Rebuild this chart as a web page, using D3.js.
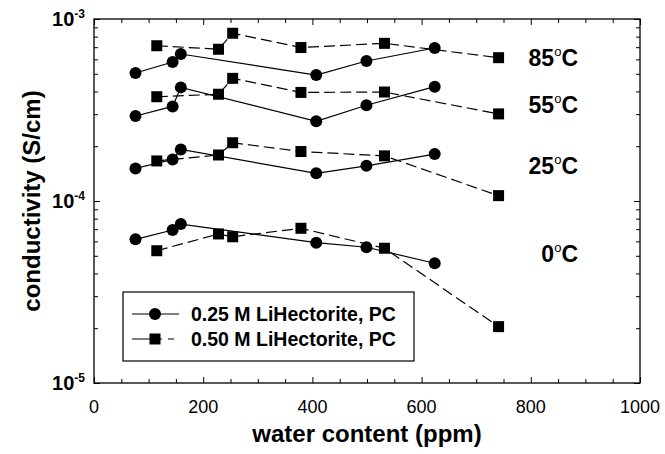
<!DOCTYPE html>
<html lang="en">
<head>
<meta charset="UTF-8">
<title>conductivity vs water content</title>
<script src="https://cdn.jsdelivr.net/npm/d3@7"></script>
<style>
  body { margin: 0; background: #fff; }
  text { font-family: "Liberation Sans", Arial, sans-serif; fill: #000; }
</style>
</head>
<body>
<script>
    // water content (ppm) of the samples
    var water025 = [76, 144, 159, 407, 499, 624]
    var water050 = [115, 228, 254, 379, 532, 741]

    // conductivity (S/cm), 0.25 M LiHectorite in PC
    var c025_85 = [5.05e-4, 5.8e-4, 6.42e-4, 4.92e-4, 5.88e-4, 6.93e-4]
    var c025_55 = [2.93e-4, 3.31e-4, 4.21e-4, 2.74e-4, 3.36e-4, 4.25e-4]
    var c025_25 = [1.51e-4, 1.69e-4, 1.92e-4, 1.42e-4, 1.56e-4, 1.81e-4]
    var c025_0 = [6.16e-5, 6.93e-5, 7.47e-5, 5.9e-5, 5.57e-5, 4.55e-5]

    // conductivity (S/cm), 0.50 M LiHectorite in PC
    var c050_85 = [7.13e-4, 6.82e-4, 8.35e-4, 6.97e-4, 7.35e-4, 6.13e-4]
    var c050_55 = [3.74e-4, 3.86e-4, 4.72e-4, 3.95e-4, 3.97e-4, 3.01e-4]
    var c050_25 = [1.66e-4, 1.79e-4, 2.09e-4, 1.87e-4, 1.77e-4, 1.07e-4]
    var c050_0 = [5.33e-5, 6.59e-5, 6.36e-5, 7.08e-5, 5.5e-5, 2.04e-5]

    var tempLabels = ['85', '55', '25', '0']
    var tempLabelValues = [6.1e-4, 3.37e-4, 1.55e-4, 5.12e-5]
    var xTickValues = [0, 200, 400, 600, 800, 1000]
    var yTickExponents = [-3, -4, -5]
    var legendLabels = ['0.25 M LiHectorite, PC', '0.50 M LiHectorite, PC']

    var width = 665,
        height = 454,
        pLeft = 94, pRight = 640, pTop = 19, pBottom = 383

    var svg = d3.select('body').append('svg')
        .attr('width', width)
        .attr('height', height)

    var xScale = d3.scaleLinear().domain([0, 1000]).range([pLeft, pRight])
    var yScale = d3.scaleLog().domain([1e-5, 1e-3]).range([pBottom, pTop])

    // ticks, all pointing inward
    var xMinor = d3.range(0, 1001, 50).filter(d => d % 200 !== 0)
    var yMinor = []
    ;[1e-5, 1e-4].forEach(function (base) {
        for (var k = 2; k <= 9; k++) yMinor.push(base * k)
    })

    function addAxis(axis, tx, ty) {
        svg.append('g')
            .attr('transform', 'translate(' + tx + ',' + ty + ')')
            .call(axis.tickFormat(''))
            .call(g => g.select('.domain').remove())
            .selectAll('line').attr('stroke', '#000').attr('stroke-width', 1)
    }
    addAxis(d3.axisBottom(xScale).tickValues(xTickValues).tickSize(-6), 0, pBottom)
    addAxis(d3.axisBottom(xScale).tickValues(xMinor).tickSize(-4), 0, pBottom)
    addAxis(d3.axisTop(xScale).tickValues(xTickValues).tickSize(-6), 0, pTop)
    addAxis(d3.axisTop(xScale).tickValues(xMinor).tickSize(-4), 0, pTop)
    addAxis(d3.axisLeft(yScale).tickValues([1e-5, 1e-4, 1e-3]).tickSize(-6), pLeft, 0)
    addAxis(d3.axisLeft(yScale).tickValues(yMinor).tickSize(-4), pLeft, 0)
    addAxis(d3.axisRight(yScale).tickValues([1e-5, 1e-4, 1e-3]).tickSize(-6), pRight, 0)
    addAxis(d3.axisRight(yScale).tickValues(yMinor).tickSize(-4), pRight, 0)

    svg.append('rect')
        .attr('x', pLeft).attr('y', pTop)
        .attr('width', pRight - pLeft).attr('height', pBottom - pTop)
        .attr('fill', 'none').attr('stroke', '#000').attr('stroke-width', 1.3)

    // tick labels
    svg.selectAll('.xlab').data(xTickValues).enter().append('text')
        .attr('x', d => xScale(d)).attr('y', pBottom + 30)
        .attr('text-anchor', 'middle')
        .style('font-size', '18px')
        .text(d => d)

    yTickExponents.forEach(function (e) {
        var t = svg.append('text')
            .attr('x', 85).attr('y', yScale(Math.pow(10, e)) + 7)
            .attr('text-anchor', 'end')
            .style('font-size', '20px').style('font-weight', 'bold')
        t.append('tspan').text('10')
        t.append('tspan').attr('dy', -8).style('font-size', '12px').text(String(e))
    })

    // axis titles
    svg.append('text')
        .attr('x', (pLeft + pRight) / 2).attr('y', 442)
        .attr('text-anchor', 'middle')
        .style('font-size', '24px').style('font-weight', 'bold')
        .text('water content (ppm)')
    svg.append('text')
        .attr('transform', 'translate(40,' + (pTop + pBottom) / 2 + ') rotate(-90)')
        .attr('text-anchor', 'middle')
        .style('font-size', '24px').style('font-weight', 'bold')
        .text('conductivity (S/cm)')

    // series
    var line = d3.line().x(d => xScale(d[0])).y(d => yScale(d[1]))
    var series025 = [c025_85, c025_55, c025_25, c025_0]
    var series050 = [c050_85, c050_55, c050_25, c050_0]

    series050.forEach(function (vals) {
        var pts = d3.zip(water050, vals)
        svg.append('path').datum(pts).attr('d', line)
            .attr('fill', 'none').attr('stroke', '#000').attr('stroke-width', 1.2)
            .attr('stroke-dasharray', '11,5')
        svg.selectAll(null).data(pts).enter().append('rect')
            .attr('x', d => xScale(d[0]) - 5.5).attr('y', d => yScale(d[1]) - 5.5)
            .attr('width', 11).attr('height', 11).attr('fill', '#000')
    })
    series025.forEach(function (vals) {
        var pts = d3.zip(water025, vals)
        svg.append('path').datum(pts).attr('d', line)
            .attr('fill', 'none').attr('stroke', '#000').attr('stroke-width', 1.2)
        svg.selectAll(null).data(pts).enter().append('circle')
            .attr('cx', d => xScale(d[0])).attr('cy', d => yScale(d[1]))
            .attr('r', 6).attr('fill', '#000')
    })

    // temperature labels
    tempLabels.forEach(function (t, i) {
        var txt = svg.append('text')
            .attr('x', 578).attr('y', yScale(tempLabelValues[i]) + 8)
            .attr('text-anchor', 'end')
            .style('font-size', '23px').style('font-weight', 'bold')
        txt.append('tspan').text(t)
        txt.append('tspan').attr('dy', -10).style('font-size', '13px').style('font-weight', 'normal').text('o')
        txt.append('tspan').attr('dy', 10).text('C')
    })

    // legend
    var lg = svg.append('g').attr('transform', 'translate(123,292)')
    lg.append('rect').attr('width', 291).attr('height', 69)
        .attr('fill', '#fff').attr('stroke', '#000').attr('stroke-width', 1.2)
    legendLabels.forEach(function (label, i) {
        var cy = 22 + i * 25
        lg.append('line').attr('x1', 9).attr('x2', 56).attr('y1', cy).attr('y2', cy)
            .attr('stroke', '#000').attr('stroke-width', 1.2)
            .attr('stroke-dasharray', i === 0 ? null : '30,6,6,20')
        if (i === 0) {
            lg.append('circle').attr('cx', 32).attr('cy', cy).attr('r', 6).attr('fill', '#000')
        } else {
            lg.append('rect').attr('x', 26.5).attr('y', cy - 5.5).attr('width', 11).attr('height', 11).attr('fill', '#000')
        }
        lg.append('text').attr('x', 68).attr('y', cy + 7)
            .style('font-size', '19.5px').style('font-weight', 'bold')
            .text(label)
    })
</script>
</body>
</html>
